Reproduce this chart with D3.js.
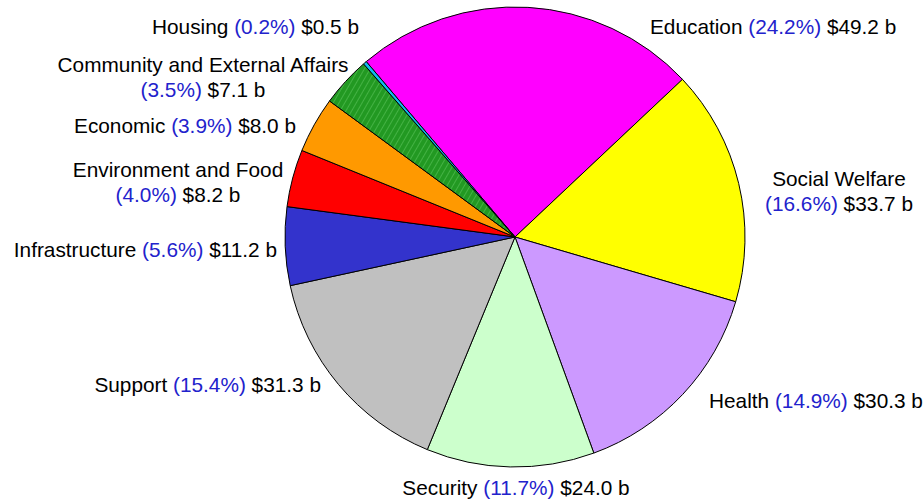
<!DOCTYPE html>
<html>
<head>
<meta charset="utf-8">
<script src="https://cdn.jsdelivr.net/npm/d3@7"></script>
<style>
  body { margin: 0; background: #fff; }
  text { font-family: "Liberation Sans", Arial, sans-serif; font-size: 20.8px; }
</style>
</head>
<body>
<div class="canvas"></div>
<script>
// data
var categories = ['Education', 'Social Welfare', 'Health', 'Security', 'Support',
                  'Infrastructure', 'Environment and Food', 'Economic',
                  'Community and External Affairs', 'Housing'];
var values = [49.2, 33.7, 30.3, 24.0, 31.3, 11.2, 8.2, 8.0, 7.1, 0.5];
var pctLabels = ['24.2%', '16.6%', '14.9%', '11.7%', '15.4%', '5.6%', '4.0%', '3.9%', '3.5%', '0.2%'];
var colors = ['#ff00ff', '#ffff00', '#cc99ff', '#ccffcc', '#c0c0c0',
              '#3333cc', '#ff0000', '#ff9900', '#229922', '#11bbee'];

//---------------------------
var pieProp = {
    width: 924,
    height: 499,
    cx: 515,
    cy: 237,
    radius: 230,
    startDeg: -40.3,
    blue: '#2222cc'
};
// label placement: x, baseline y, anchor, split onto two lines
var labelLayout = [
    { x: 650, y: 34, anchor: 'start', twoLines: false },
    { x: 839, y: 186, anchor: 'middle', twoLines: true },
    { x: 709, y: 408, anchor: 'start', twoLines: false },
    { x: 516, y: 495, anchor: 'middle', twoLines: false },
    { x: 321, y: 392, anchor: 'end', twoLines: false },
    { x: 277, y: 257, anchor: 'end', twoLines: false },
    { x: 178, y: 177, anchor: 'middle', twoLines: true },
    { x: 296, y: 133, anchor: 'end', twoLines: false },
    { x: 203, y: 72, anchor: 'middle', twoLines: true },
    { x: 359, y: 34, anchor: 'end', twoLines: false }
];
//---------------------------

var svg = d3.select('.canvas').append('svg')
    .attr('width', pieProp.width)
    .attr('height', pieProp.height);

// hatch for the community slice
var defs = svg.append('defs');
var pat = defs.append('pattern')
    .attr('id', 'hatch')
    .attr('patternUnits', 'userSpaceOnUse')
    .attr('width', 5).attr('height', 5)
    .attr('patternTransform', 'rotate(30)');
pat.append('rect').attr('width', 5).attr('height', 5).attr('fill', '#229922');
pat.append('line').attr('x1', 0).attr('y1', 0).attr('x2', 0).attr('y2', 5)
    .attr('stroke', '#66cc66').attr('stroke-width', 1);

var data = categories.map(function (c, i) {
    return { name: c, value: values[i], pct: pctLabels[i], color: colors[i], layout: labelLayout[i] };
});

var start = pieProp.startDeg * Math.PI / 180;
var pie = d3.pie()
    .sort(null)
    .value(function (d) { return d.value; })
    .startAngle(start)
    .endAngle(start + 2 * Math.PI);

var arc = d3.arc().innerRadius(0).outerRadius(pieProp.radius);

var graph = svg.append('g')
    .attr('transform', `translate(${pieProp.cx}, ${pieProp.cy})`);

graph.selectAll('path')
    .data(pie(data))
    .enter()
    .append('path')
    .attr('d', arc)
    .attr('fill', function (d) { return d.data.name === 'Community and External Affairs' ? 'url(#hatch)' : d.data.color; })
    .attr('stroke', '#000')
    .attr('stroke-width', 1)
    .attr('stroke-linejoin', 'round');

// labels
var labels = svg.selectAll('text.lbl')
    .data(data)
    .enter()
    .append('text')
    .attr('class', 'lbl')
    .attr('text-anchor', function (d) { return d.layout.anchor; })
    .attr('x', function (d) { return d.layout.x; })
    .attr('y', function (d) { return d.layout.y; });

labels.each(function (d) {
    var t = d3.select(this);
    if (d.layout.twoLines) {
        t.append('tspan').attr('x', d.layout.x).text(d.name);
        t.append('tspan').attr('x', d.layout.x).attr('dy', 24.5)
            .attr('fill', pieProp.blue).text('(' + d.pct + ')');
        t.append('tspan').attr('fill', '#000').text(' $' + d.value.toFixed(1) + ' b');
    } else {
        t.append('tspan').text(d.name + ' ');
        t.append('tspan').attr('fill', pieProp.blue).text('(' + d.pct + ')');
        t.append('tspan').text(' $' + d.value.toFixed(1) + ' b');
    }
});
</script>
</body>
</html>
